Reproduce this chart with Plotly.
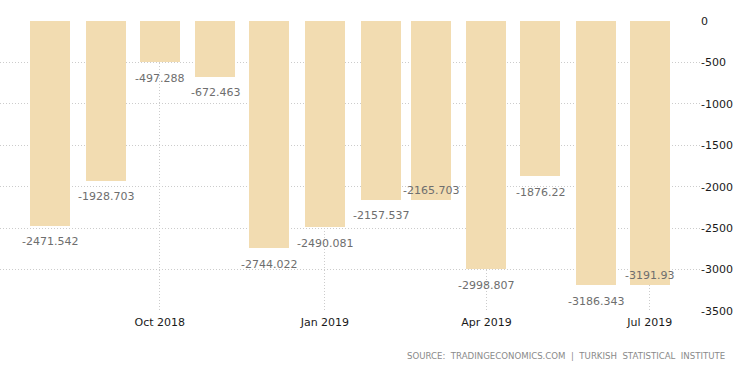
import plotly.graph_objects as go

months = ["2018-08-01", "2018-09-01", "2018-10-01", "2018-11-01", "2018-12-01", "2019-01-01",
          "2019-02-01", "2019-03-01", "2019-04-01", "2019-05-01", "2019-06-01", "2019-07-01"]
values = [-2471.542, -1928.703, -497.288, -672.463, -2744.022, -2490.081,
          -2157.537, -2165.703, -2998.807, -1876.22, -3186.343, -3191.93]
labels = ["-2471.542", "-1928.703", "-497.288", "-672.463", "-2744.022", "-2490.081",
          "-2157.537", "-2165.703", "-2998.807", "-1876.22", "-3186.343", "-3191.93"]
y_ticks = [0, -500, -1000, -1500, -2000, -2500, -3000, -3500]
x_ticks = ["2018-10-01", "2019-01-01", "2019-04-01", "2019-07-01"]
x_tick_labels = ["Oct 2018", "Jan 2019", "Apr 2019", "Jul 2019"]

DAY = 86400000
fig = go.Figure()
fig.add_trace(go.Bar(
    x=months, y=values, width=[22.3 * DAY] * len(months),
    marker=dict(color="#F2DCB1", line=dict(width=0)),
    hoverinfo="x+y",
))

# value labels: below bar end, or above bar end when colliding with previous label
for i, (m, v, t) in enumerate(zip(months, values, labels)):
    collide = i > 0 and abs(v - values[i - 1]) < 60
    fig.add_annotation(
        x=m, y=v, text=t, showarrow=False,
        yshift=10 if collide else -16,
        font=dict(family="DejaVu Sans", size=11, color="#6e6e6e"),
        xanchor="center", yanchor="middle",
    )

fig.add_annotation(
    xref="paper", yref="paper", x=1.0 + 27 / 700, y=-0.155,
    text="SOURCE:\u00a0\u00a0TRADINGECONOMICS.COM\u00a0\u00a0|\u00a0\u00a0TURKISH\u00a0\u00a0STATISTICAL\u00a0\u00a0INSTITUTE",
    showarrow=False, xanchor="right", yanchor="middle",
    font=dict(family="DejaVu Sans", size=8.6, color="#8a8a8a"),
)

grid = dict(showgrid=True, gridcolor="#cccccc", gridwidth=1, griddash="1px,2px")
fig.update_layout(
    width=750, height=373,
    margin=dict(l=0, r=50, t=21, b=62),
    paper_bgcolor="white", plot_bgcolor="white",
    showlegend=False, bargap=0,
    xaxis=dict(type="date", range=["2018-07-04", "2019-07-29"],
               tickvals=x_ticks, ticktext=x_tick_labels,
               tickfont=dict(family="DejaVu Sans", size=11, color="#1a1a1a"),
               ticklabelstandoff=3,
               ticks="", zeroline=False, showline=False, **grid),
    yaxis=dict(side="right", range=[-3500, 0], tickvals=y_ticks,
               ticktext=[str(v) for v in y_ticks],
               tickfont=dict(family="DejaVu Sans", size=11, color="#1a1a1a"),
               ticks="", zeroline=False, showline=False, **grid),
)
fig.write_html("out.html", config={"displayModeBar": False},
               post_script="document.body.style.margin='0';document.body.style.padding='0';")
